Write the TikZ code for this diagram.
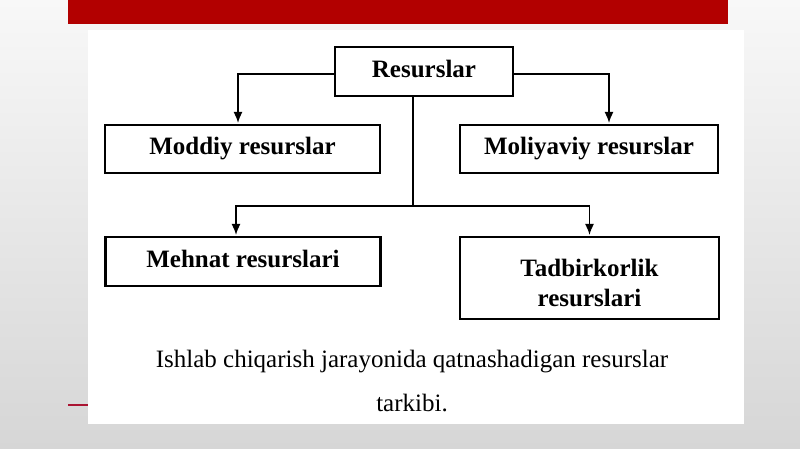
\documentclass[tikz,border=0pt]{standalone}
\usepackage{fontspec}
\setmainfont{Liberation Serif}
\usetikzlibrary{arrows.meta,calc}
\definecolor{barred}{RGB}{178,0,0}
\definecolor{dashred}{RGB}{170,20,50}
\definecolor{bgtop}{RGB}{248,248,248}
\definecolor{bgbot}{RGB}{214,214,214}
\tikzset{
  box/.style={draw=black, line width=2.2pt, fill=white, inner sep=0pt,
    font=\fontsize{25}{30}\selectfont\bfseries, text height=17pt, text depth=5pt},
  conn/.style={draw=black, line width=1.3pt, -{Latex[length=11pt,width=9pt]}, shorten >=1pt},
  plainline/.style={draw=black, line width=1.3pt},
  captext/.style={font=\fontsize{25}{30}\selectfont, anchor=base, inner sep=0pt},
  boxtext/.style={font=\fontsize{25}{30}\selectfont\bfseries, align=center, inner sep=0pt}
}
\begin{document}
\begin{tikzpicture}[x=1pt,y=-1pt]
\useasboundingbox (0,0) rectangle (800,449);
\shade[top color=bgtop, bottom color=bgbot] (0,0) rectangle (800,449);
\fill[barred] (68,0) rectangle (728,24);
\draw[dashred, line width=2pt] (68,405) -- (88,405);
\fill[white] (88,30) rectangle (744,424);

\node[box, minimum width=178pt, minimum height=49pt] (res) at (424,71.5) {Resurslar};
\node[box, minimum width=275pt, minimum height=48pt] (mod) at (242.5,149) {Moddiy resurslar};
\node[box, minimum width=258pt, minimum height=48pt] (mol) at (589,149) {Moliyaviy resurslar};
\node[box, minimum width=275pt, minimum height=49pt] (meh) at (243,261.5) {Mehnat resurslari};
\node[box, minimum width=259pt, minimum height=82pt] (tad) at (589.5,278) {};
\node[boxtext] (tadt) at ([yshift=-5pt]tad.center) {Tadbirkorlik\\resurslari};

\coordinate (j) at ([xshift=-11pt]res.south |- 0,206);
\draw[conn] ([yshift=-2.5pt]res.west) -| ([xshift=-4.5pt]mod.north);
\draw[conn] ([yshift=-2.5pt]res.east) -| ([xshift=20pt]mol.north);
\draw[plainline] ([xshift=-11pt]res.south) -- (j);
\draw[conn] (j) -| ([xshift=-7pt]meh.north);
\draw[conn] (j) -| (tad.north);

\node[captext] (c1) at (412,367) {Ishlab chiqarish jarayonida qatnashadigan resurslar};
\node[captext] (c2) at (412,411) {tarkibi.};
\end{tikzpicture}
\end{document}
